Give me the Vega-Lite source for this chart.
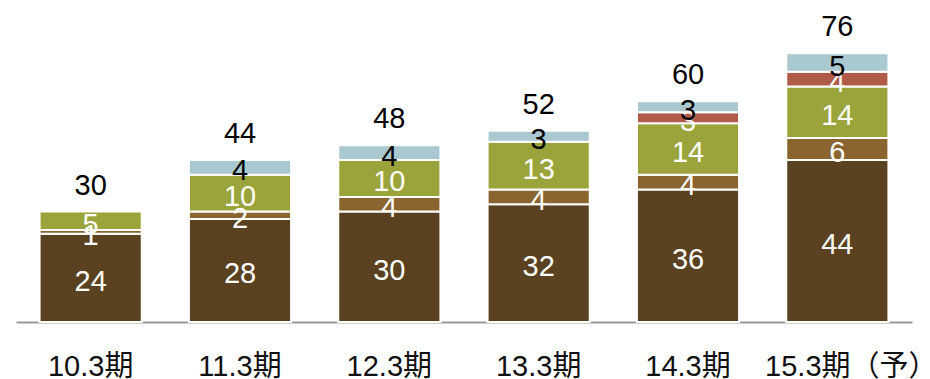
{
  "$schema": "https://vega.github.io/schema/vega-lite/v6.json",
  "autosize": "none",
  "width": 896,
  "height": 294.4,
  "padding": {"left": 16, "top": 27.6, "right": 18, "bottom": 57},
  "background": "white",
  "config": {"view": {"stroke": null}, "font": "Liberation Sans, Noto Sans CJK JP"},
  "datasets": {
    "seg": [
      {"period": "10.3期", "series": "s1", "value": 24},
      {"period": "10.3期", "series": "s2", "value": 1},
      {"period": "10.3期", "series": "s3", "value": 5},
      {"period": "11.3期", "series": "s1", "value": 28},
      {"period": "11.3期", "series": "s2", "value": 2},
      {"period": "11.3期", "series": "s3", "value": 10},
      {"period": "11.3期", "series": "s5", "value": 4},
      {"period": "12.3期", "series": "s1", "value": 30},
      {"period": "12.3期", "series": "s2", "value": 4},
      {"period": "12.3期", "series": "s3", "value": 10},
      {"period": "12.3期", "series": "s5", "value": 4},
      {"period": "13.3期", "series": "s1", "value": 32},
      {"period": "13.3期", "series": "s2", "value": 4},
      {"period": "13.3期", "series": "s3", "value": 13},
      {"period": "13.3期", "series": "s5", "value": 3},
      {"period": "14.3期", "series": "s1", "value": 36},
      {"period": "14.3期", "series": "s2", "value": 4},
      {"period": "14.3期", "series": "s3", "value": 14},
      {"period": "14.3期", "series": "s4", "value": 3},
      {"period": "14.3期", "series": "s5", "value": 3},
      {"period": "15.3期（予）", "series": "s1", "value": 44},
      {"period": "15.3期（予）", "series": "s2", "value": 6},
      {"period": "15.3期（予）", "series": "s3", "value": 14},
      {"period": "15.3期（予）", "series": "s4", "value": 4},
      {"period": "15.3期（予）", "series": "s5", "value": 5}
    ],
    "tot": [
      {"period": "10.3期", "total": 30},
      {"period": "11.3期", "total": 44},
      {"period": "12.3期", "total": 48},
      {"period": "13.3期", "total": 52},
      {"period": "14.3期", "total": 60},
      {"period": "15.3期（予）", "total": 76}
    ]
  },
  "data": {"name": "seg"},
  "encoding": {
    "x": {
      "field": "period", "type": "nominal", "sort": null,
      "scale": {"paddingInner": 0.316, "paddingOuter": 0.158},
      "axis": {
        "title": null, "ticks": false, "tickSize": 0, "grid": false,
        "domainColor": "#999999", "domainWidth": 2,
        "labelAngle": 0, "labelFontSize": 29, "labelColor": "#111111",
        "labelBaseline": "alphabetic", "labelPadding": 53,
        "labelFont": "Liberation Sans, Noto Sans CJK JP",
        "labelOffset": {"expr": "datum.value == '15.3期（予）' ? 14 : 0"}
      }
    }
  },
  "layer": [
    {
      "mark": {"type": "bar", "stroke": "white", "strokeWidth": 2},
      "encoding": {
        "y": {"field": "value", "type": "quantitative", "stack": "zero",
              "scale": {"domain": [0, 80], "nice": false}, "axis": null},
        "color": {"field": "series", "type": "nominal", "legend": null,
                  "scale": {"domain": ["s1", "s2", "s3", "s4", "s5"],
                            "range": ["#5A4220", "#8B6530", "#9AA43A", "#B05A48", "#A9C8CF"]}},
        "order": {"field": "series"}
      }
    },
    {
      "mark": {"type": "text", "fontSize": 29, "baseline": "middle", "dy": 4},
      "encoding": {
        "y": {"field": "value", "type": "quantitative", "stack": "zero", "bandPosition": 0.5},
        "detail": {"field": "series"},
        "order": {"field": "series"},
        "text": {"field": "value", "type": "quantitative"},
        "color": {"condition": {"test": "datum.series === 's5'", "value": "#000000"}, "value": "#ffffff"}
      }
    },
    {
      "data": {"name": "seg"},
      "mark": {"type": "text", "fontSize": 29, "baseline": "alphabetic", "dy": -17, "color": "#000000"},
      "transform": [
        {"aggregate": [{"op": "sum", "field": "value", "as": "top"}], "groupby": ["period"]},
        {"lookup": "period", "from": {"data": {"name": "tot"}, "key": "period", "fields": ["total"]}}
      ],
      "encoding": {
        "y": {"field": "top", "type": "quantitative"},
        "text": {"field": "total", "type": "quantitative"}
      }
    }
  ]
}
